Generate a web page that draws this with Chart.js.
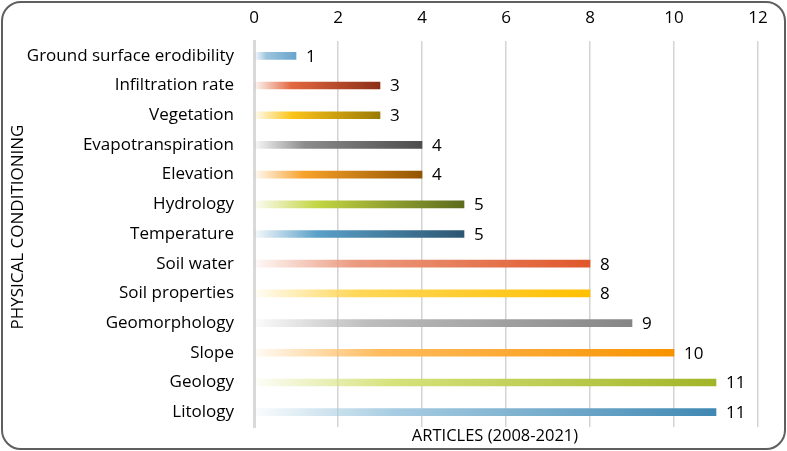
<!DOCTYPE html>
<html>
<head>
<meta charset="utf-8">
<script src="https://cdn.jsdelivr.net/npm/chart.js@4"></script>
<style>
  html, body { margin: 0; padding: 0; background: #fff; }
  #wrap { position: relative; width: 787px; height: 451px; }
  #frame {
    position: absolute; left: 1px; top: 1px; width: 785px; height: 449px;
    box-sizing: border-box; border: 2px solid #5f5f5f; border-radius: 20px;
    pointer-events: none;
  }
</style>
</head>
<body>
<div id="wrap">
  <canvas id="myChart" width="787" height="451"></canvas>
  <div id="frame"></div>
</div>
<script>
// donnees du graphique
const categories = ['Ground surface erodibility', 'Infiltration rate', 'Vegetation', 'Evapotranspiration',
    'Elevation', 'Hydrology', 'Temperature', 'Soil water', 'Soil properties', 'Geomorphology',
    'Slope', 'Geology', 'Litology'];
const articles = [1, 3, 3, 4, 4, 5, 5, 8, 8, 9, 10, 11, 11];
const xTicks = [0, 2, 4, 6, 8, 10, 12];
const xTitle = 'ARTICLES (2008-2021)';
const yTitle = 'PHYSICAL CONDITIONING';

// couleurs des barres (milieu, fin du degrade)
const midColors = ['#9cc4dd', '#e2673f', '#fcc419', '#8c8c8c', '#f7a128', '#c3d542', '#5aa0c8',
    '#eb9b80', '#ffd75a', '#bdbdbd', '#ffbb5c', '#d6e27a', '#a8cde2'];
const endColors = ['#6aa5cb', '#8c2f17', '#9b7a05', '#4d4d4d', '#935400', '#5d6b1d', '#2c5672',
    '#e0572a', '#ffc000', '#858585', '#f79300', '#a2b427', '#3f88b3'];

const FONT = "'Open Sans', sans-serif";

function hexAlpha(hex, a) {
    const n = parseInt(hex.slice(1), 16);
    return 'rgba(' + (n >> 16) + ',' + ((n >> 8) & 255) + ',' + (n & 255) + ',' + a + ')';
}

function barGradient(c) {
    const chart = c.chart;
    const i = c.dataIndex;
    if (!chart.chartArea) return midColors[i];
    const xs = chart.scales.x;
    const x0 = xs.getPixelForValue(0);
    const x1 = xs.getPixelForValue(c.raw);
    const g = chart.ctx.createLinearGradient(x0, 0, x1, 0);
    g.addColorStop(0, hexAlpha(midColors[i], 0.05));
    g.addColorStop(0.3, midColors[i]);
    g.addColorStop(1, endColors[i]);
    return g;
}

// etiquettes des valeurs + titres des axes
const labelsPlugin = {
    id: 'labelsPlugin',
    afterDatasetsDraw(chart) {
        const ctx = chart.ctx;
        const meta = chart.getDatasetMeta(0);
        ctx.save();
        ctx.fillStyle = '#000';
        ctx.font = '17px ' + FONT;
        ctx.textAlign = 'left';
        ctx.textBaseline = 'middle';
        meta.data.forEach((bar, i) => {
            ctx.fillText(String(articles[i]), bar.x + 10, bar.y + 1);
        });
        ctx.font = '16.5px ' + FONT;
        ctx.textAlign = 'center';
        ctx.fillText(xTitle, 495, 436);
        ctx.translate(18, 227);
        ctx.rotate(-Math.PI / 2);
        ctx.font = '17px ' + FONT;
        ctx.fillText(yTitle, 0, 0);
        ctx.restore();
    }
};

document.addEventListener('DOMContentLoaded', function () {
    const ctx = document.getElementById('myChart').getContext('2d');
    new Chart(ctx, {
        type: 'bar',
        data: {
            labels: categories,
            datasets: [{
                label: xTitle,
                data: articles,
                backgroundColor: barGradient,
                barThickness: 7
            }]
        },
        options: {
            indexAxis: 'y',
            responsive: false,
            animation: false,
            layout: { padding: { left: 0, right: 29, top: 0, bottom: 24 } },
            plugins: {
                legend: { display: false },
                tooltip: { enabled: false }
            },
            scales: {
                x: {
                    position: 'top',
                    min: 0,
                    max: 12,
                    afterBuildTicks: s => { s.ticks = xTicks.map(v => ({ value: v })); },
                    afterFit: s => { s.height = 41; },
                    grid: { color: '#d3d3d3', lineWidth: 1.5, drawTicks: false },
                    border: { display: false },
                    ticks: { color: '#000', font: { family: FONT, size: 17 }, padding: 13 }
                },
                y: {
                    afterFit: s => { s.width = 254; },
                    grid: { display: false },
                    border: { display: true, color: '#d9d9d9', width: 3 },
                    ticks: { color: '#000', font: { family: FONT, size: 17 }, padding: 12 }
                }
            }
        },
        plugins: [labelsPlugin]
    });
});
</script>
</body>
</html>
